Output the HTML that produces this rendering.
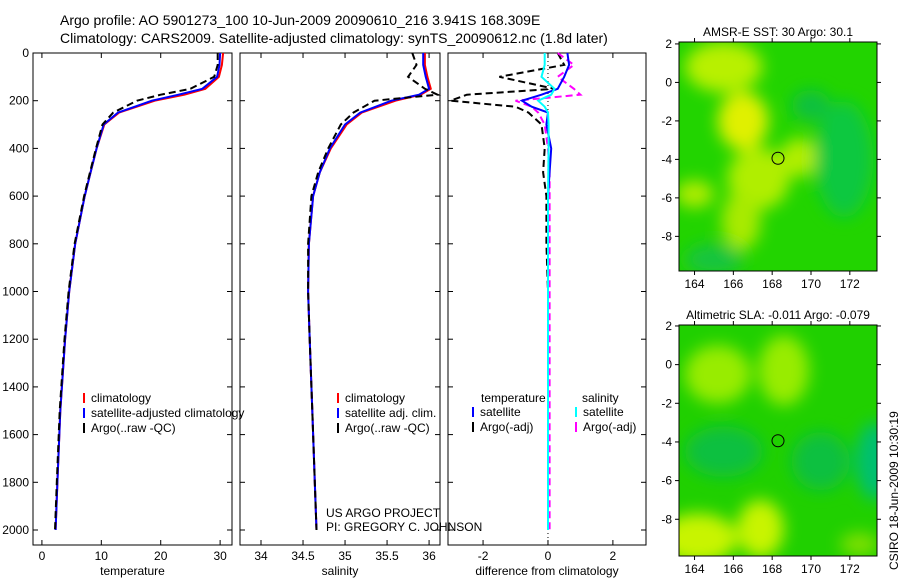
<!DOCTYPE html>
<html><head><meta charset="utf-8"><style>
body{margin:0;background:#fff;width:900px;height:580px;overflow:hidden;font-family:"Liberation Sans",sans-serif}
svg text{font-family:"Liberation Sans",sans-serif;font-size:12px;fill:#000}
</style></head><body>
<svg id="c" width="900" height="580" xmlns="http://www.w3.org/2000/svg">
<defs>
<filter id="bl" x="-50%" y="-50%" width="200%" height="200%"><feGaussianBlur stdDeviation="8"/></filter>
<clipPath id="m1c"><rect x="679" y="42" width="198" height="229"/></clipPath>
<clipPath id="m2c"><rect x="679" y="325" width="198" height="231"/></clipPath>
</defs>
<text x="60" y="25" style="font-size:14px">Argo profile: AO 5901273_100 10-Jun-2009 20090610_216 3.941S 168.309E</text>
<text x="60" y="43" style="font-size:14px">Climatology: CARS2009. Satellite-adjusted climatology: synTS_20090612.nc (1.8d later)</text>
<g id="maps"></g>
<g id="plots"></g>
<text x="326" y="517">US ARGO PROJECT</text>
<text x="326" y="531">PI: GREGORY C. JOHNSON</text>
<text transform="translate(898,570) rotate(-90)">CSIRO 18-Jun-2009 10:30:19</text>
</svg>
<script>
const depths=[0,50,100,150,175,200,250,300,400,500,600,800,1000,1200,1500,1800,2000];
const tempClim=[30.5,30.3,29.8,27.5,24,19,13,10.5,9.2,8.2,7.2,5.6,4.6,3.9,3.1,2.6,2.3];
const tempSat=[30,29.9,29.5,27,23,18.5,12.8,10.4,9.2,8.2,7.2,5.6,4.6,3.9,3.1,2.6,2.3];
const tempArgo=[29.6,29.6,29,25,20,16,12,10.2,9.1,8.1,7.1,5.5,4.5,3.8,3.0,2.5,2.2];
const salClim=[35.95,35.95,35.98,36.02,35.9,35.6,35.2,35.02,34.83,34.7,34.62,34.57,34.56,34.58,34.61,34.64,34.66];
const salSat=[35.93,35.93,35.96,36.0,35.88,35.55,35.18,35.0,34.82,34.7,34.62,34.57,34.56,34.58,34.61,34.64,34.66];
const salArgo=[35.8,35.85,35.75,35.95,36.1,35.35,35.1,34.95,34.8,34.68,34.6,34.56,34.56,34.58,34.61,34.64,34.66];
const ddepths=[0,50,100,150,175,200,225,250,300,400,500,600,800,1000,1500,2000];
const dTempSat=[0.6,0.65,0.5,0.3,-0.2,-0.8,-0.5,0,-0.05,0.1,0.05,0,0,0,0,0];
const dTempArgo=[0.3,0.5,-1.5,0.2,-2.5,-3,-1,-0.6,-0.2,-0.1,-0.15,-0.05,-0.05,0,0,0];
const dSalSat=[-0.1,-0.1,-0.2,0.2,0.1,-0.3,-0.1,0,0.02,0.02,0.01,0,0,0,0,0];
const dSalArgo=[0.3,0.8,0.3,0.8,1,-1,-0.5,-0.3,-0.1,0,0.05,0.05,0.05,0.05,0.05,0.05];
const depthTicks=[0,200,400,600,800,1000,1200,1400,1600,1800,2000];
const tempTicks=[0,10,20,30], salTicks=[34,34.5,35,35.5,36], diffTicks=[-2,0,2];
const lonTicks=[164,166,168,170,172], latTicks=[2,0,-2,-4,-6,-8];
const NS='http://www.w3.org/2000/svg';
const plots=document.getElementById('plots'), maps=document.getElementById('maps');
function mk(t,a,p){const e=document.createElementNS(NS,t);for(const k in a)e.setAttribute(k,a[k]);(p||plots).appendChild(e);return e;}
const yD=d=>53+d*0.2385;
function panel(name,x0,x1,vmin,vmax,ticks,label,showY){
  const xs=v=>x0+(v-vmin)/(vmax-vmin)*(x1-x0);
  const g=mk('g',{});
  
  
  mk('rect',{x:x0,y:53,width:x1-x0,height:492,fill:'none',stroke:'#000'},g);
  ticks.forEach(t=>{const x=xs(t);mk('line',{x1:x,x2:x,y1:545,y2:540,stroke:'#000'},g);mk('line',{x1:x,x2:x,y1:53,y2:58,stroke:'#000'},g);
    const tx=mk('text',{x:x,y:560,'text-anchor':'middle'},g);tx.textContent=t;
    
    });
  depthTicks.forEach(d=>{const y=yD(d);mk('line',{x1:x0,x2:x0+5,y1:y,y2:y,stroke:'#000'},g);mk('line',{x1:x1,x2:x1-5,y1:y,y2:y,stroke:'#000'},g);
    if(showY){const tx=mk('text',{x:x0-4,y:y+4,'text-anchor':'end'},g);tx.textContent=d;
    
    }});
  const l=mk('text',{x:(x0+x1)/2,y:575,'text-anchor':'middle'},g);l.textContent=label;
  
  
  return {xs,g};
}
function line(p,vals,dd,col,dash,nm){
  const pts=vals.map((v,i)=>p.xs(v).toFixed(1)+','+yD(dd[i]).toFixed(1)).join(' ');
  const e=mk('polyline',{points:pts,fill:'none',stroke:col,'stroke-width':2,'stroke-dasharray':dash||'none'},p.g);
  
  
}
function legend(p,x,y,items){items.forEach((it,i)=>{const yy=y+i*15;
  mk('line',{x1:x,x2:x,y1:yy-9,y2:yy+1,stroke:it[1],'stroke-width':2},p.g);
  const t=mk('text',{x:x+7,y:yy},p.g);t.textContent=it[0];
  
  });}
const p1=panel('temperature',33,232,-1.5,32,tempTicks,'temperature',true);
line(p1,tempClim,depths,'#f00',null,'temp-climatology-line');
line(p1,tempSat,depths,'#00f',null,'temp-satellite-line');
line(p1,tempArgo,depths,'#000','7,4','temp-argo-line');
legend(p1,84,402,[['climatology','#f00'],['satellite-adjusted climatology','#00f'],['Argo(..raw -QC)','#000']]);
const p2=panel('salinity',240,440,33.75,36.13,salTicks,'salinity',false);
line(p2,salClim,depths,'#f00',null,'sal-climatology-line');
line(p2,salSat,depths,'#00f',null,'sal-satellite-line');
line(p2,salArgo,depths,'#000','7,4','sal-argo-line');
legend(p2,338,402,[['climatology','#f00'],['satellite adj. clim.','#00f'],['Argo(..raw -QC)','#000']]);
const p3=panel('difference',448,646,-3.08,3.02,diffTicks,'difference from climatology',false);
mk('line',{x1:p3.xs(0),x2:p3.xs(0),y1:53,y2:545,stroke:'#000','stroke-dasharray':'1,3'},p3.g);
line(p3,dTempArgo,ddepths,'#000','7,4','diff-temp-argo-line');
line(p3,dSalArgo,ddepths,'#f0f','7,4','diff-sal-argo-line');
line(p3,dTempSat,ddepths,'#00f',null,'diff-temp-satellite-line');
line(p3,dSalSat,ddepths,'#0ff',null,'diff-sal-satellite-line');
{const t=mk('text',{x:481,y:402},p3.g);t.textContent='temperature';const s=mk('text',{x:582,y:402},p3.g);s.textContent='salinity';}
legend(p3,473,416,[['satellite','#00f'],['Argo(-adj)','#000']]);
legend(p3,576,416,[['satellite','#0ff'],['Argo(-adj)','#f0f']]);
function mapPanel(name,y0,y1,latTop,latBot,title,base,blobs,clip){
  const x0=679,x1=877,lonL=163.2,lonR=173.4;
  const xs=l=>x0+(l-lonL)/(lonR-lonL)*(x1-x0), ys=a=>y0+(latTop-a)/(latTop-latBot)*(y1-y0);
  const g=mk('g',{},maps);
  
  
  mk('rect',{x:x0,y:y0,width:x1-x0,height:y1-y0,fill:base},g);
  const bg=mk('g',{'clip-path':'url(#'+clip+')'},g);const inner=mk('g',{filter:'url(#bl)'},bg);
  blobs.forEach(b=>mk('ellipse',{cx:xs(b[0]),cy:ys(b[1]),rx:b[2]*19.4,ry:b[3]*19.4,fill:b[4]},inner));
  mk('circle',{cx:xs(168.3),cy:ys(-3.94),r:6,fill:'none',stroke:'#000'},g);
  mk('rect',{x:x0,y:y0,width:x1-x0,height:y1-y0,fill:'none',stroke:'#000'},g);
  lonTicks.forEach(l=>{const x=xs(l);mk('line',{x1:x,x2:x,y1:y1,y2:y1+4,stroke:'#000'},g);mk('line',{x1:x,x2:x,y1:y0,y2:y0-4,stroke:'#000'},g);
    const t=mk('text',{x:x,y:y1+17,'text-anchor':'middle'},g);t.textContent=l;});
  latTicks.forEach(a=>{const y=ys(a);mk('line',{x1:x0,x2:x0-4,y1:y,y2:y,stroke:'#000'},g);mk('line',{x1:x1,x2:x1+4,y1:y,y2:y,stroke:'#000'},g);
    const t=mk('text',{x:x0-7,y:y+4,'text-anchor':'end'},g);t.textContent=a;});
  const t=mk('text',{x:(x0+x1)/2,y:y0-6,'text-anchor':'middle'},g);t.textContent=title;
  
  
}
mapPanel('sst-map',42,271,2.1,-9.8,'AMSR-E SST: 30 Argo: 30.1','#22d400',
 [[165.5,0.8,2,1.3,'#b8f000'],[166.5,-2,1.3,1.5,'#e0f000'],[167.3,-5,1.6,1.6,'#b0ee00'],[169.4,-3.9,1,1,'#b0ee00'],[166.4,-7.2,1,1.5,'#a8ea00'],[164,-5.8,1,0.7,'#b0ec00'],[171.7,-4,1.5,3,'#10c840'],[170,-1.2,1,0.8,'#10c040'],[165,-9.2,1.5,0.8,'#18c440']],'m1c');
mapPanel('sla-map',325,556,2.05,-9.9,'Altimetric SLA: -0.011 Argo: -0.079','#20d000',
 [[165.2,-0.5,1.7,1.5,'#98ec00'],[168.6,-0.3,1.3,1.8,'#98ec00'],[164.2,-9,2,1.3,'#c8f400'],[167.4,-8.5,1.2,1.5,'#c8f400'],[173.3,-5,1,2,'#00c070'],[165.5,-4.5,2,1.3,'#10c040'],[170.5,-5,1.5,1.5,'#10c040'],[172.5,-9.3,1,0.6,'#80e000']],'m2c');
</script>
</body></html>
